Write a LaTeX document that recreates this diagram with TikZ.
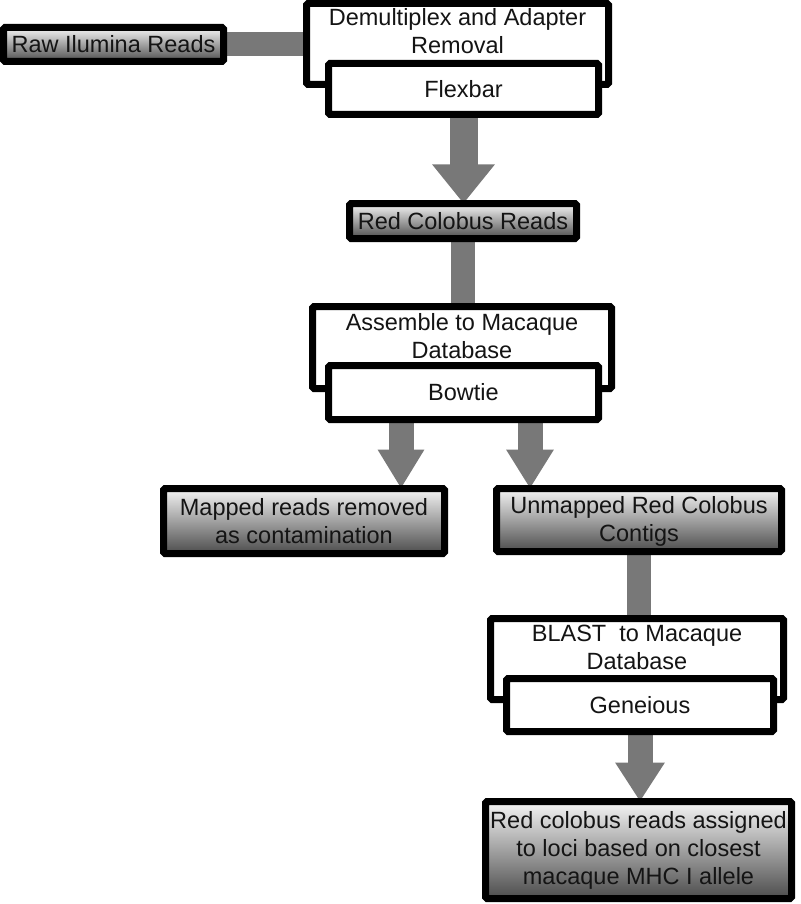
\documentclass[tikz,border=0pt]{standalone}
\usepackage{fontspec}
\setmainfont{Liberation Sans}
\usetikzlibrary{arrows.meta,backgrounds,calc}
\definecolor{conngray}{HTML}{787878}
\definecolor{txt}{HTML}{141414}
\begin{document}
\begin{tikzpicture}[x=1pt,y=-1pt,
  every node/.style={font=\fontsize{23.5}{28}\selectfont, text=txt, align=center, inner sep=0pt},
  shadebox/.style={draw=black, line width=7pt, rounded corners=1.5pt, top color=black!4, bottom color=black!70},
  whitebox/.style={draw=black, line width=7pt, rounded corners=1.5pt, fill=white},
  shaft/.style={draw=conngray, line width=24pt},
  blockarrow/.style={draw=conngray, line width=25pt, -{Triangle[width=#1,length=39pt,fill=conngray]}},
  blockarrow/.default=46pt]
\useasboundingbox (0,0) rectangle (800,904);

% nodes
\node[shadebox, minimum width=220pt, minimum height=34pt] (raw) at (113.5,44.5) {Raw Ilumina Reads};
\node[whitebox, minimum width=302pt, minimum height=81pt] (demux) at (457.5,44) {};
\node (demuxtxt) at (457.5,31) {Demultiplex and Adapter\\Removal};
\node[whitebox, minimum width=270pt, minimum height=51pt] (flex) at (463.5,89) {Flexbar};

\node[shadebox, minimum width=227pt, minimum height=35pt] (rcr) at (463,221) {Red Colobus Reads};

\node[whitebox, minimum width=299pt, minimum height=82pt] (asm) at (462,347.5) {};
\node (asmtxt) at (462,336) {Assemble to Macaque\\Database};
\node[whitebox, minimum width=270pt, minimum height=54pt] (bowtie) at (463.5,392.5) {Bowtie};

\node[shadebox, minimum width=281pt, minimum height=65pt] (mapped) at (304,521) {Mapped reads removed\\as contamination};
\node[shadebox, minimum width=285pt, minimum height=63pt] (unmapped) at (639,520) {};
\node (unmappedtxt) at (639,521.5) {Unmapped Red Colobus\\Contigs};

\node[whitebox, minimum width=293pt, minimum height=81pt] (blast) at (637,659) {};
\node (blasttxt) at (637,647) {BLAST\ \ to Macaque\\Database};
\node[whitebox, minimum width=267pt, minimum height=53pt] (gen) at (640,705) {Geneious};

\node[shadebox, minimum width=306pt, minimum height=97pt] (final) at (638.5,850) {Red colobus reads assigned\\to loci based on closest\\macaque MHC I allele};

% connectors
\begin{pgfonlayer}{background}
\draw[shaft] (raw.east) -- (raw.east -| demux.west);
\draw[blockarrow=60pt, line width=28pt] (flex.south) -- ([yshift=-3.5pt]flex.south |- rcr.north);
\draw[shaft] (rcr.south) -- (rcr.south |- asm.north);
\coordinate (bl) at ([xshift=-62.5pt]bowtie.south);
\coordinate (br) at ([xshift=66.5pt]bowtie.south);
\draw[blockarrow=44pt] (bl) -- ([yshift=-3.5pt]bl |- mapped.north);
\draw[blockarrow=45pt] (br) -- ([yshift=-3.5pt]br |- unmapped.north);
\draw[shaft] (unmapped.south) -- (unmapped.south |- blast.north);
\draw[blockarrow=47pt] (gen.south) -- ([yshift=-3.5pt]gen.south |- final.north);
\end{pgfonlayer}
\end{tikzpicture}
\end{document}
